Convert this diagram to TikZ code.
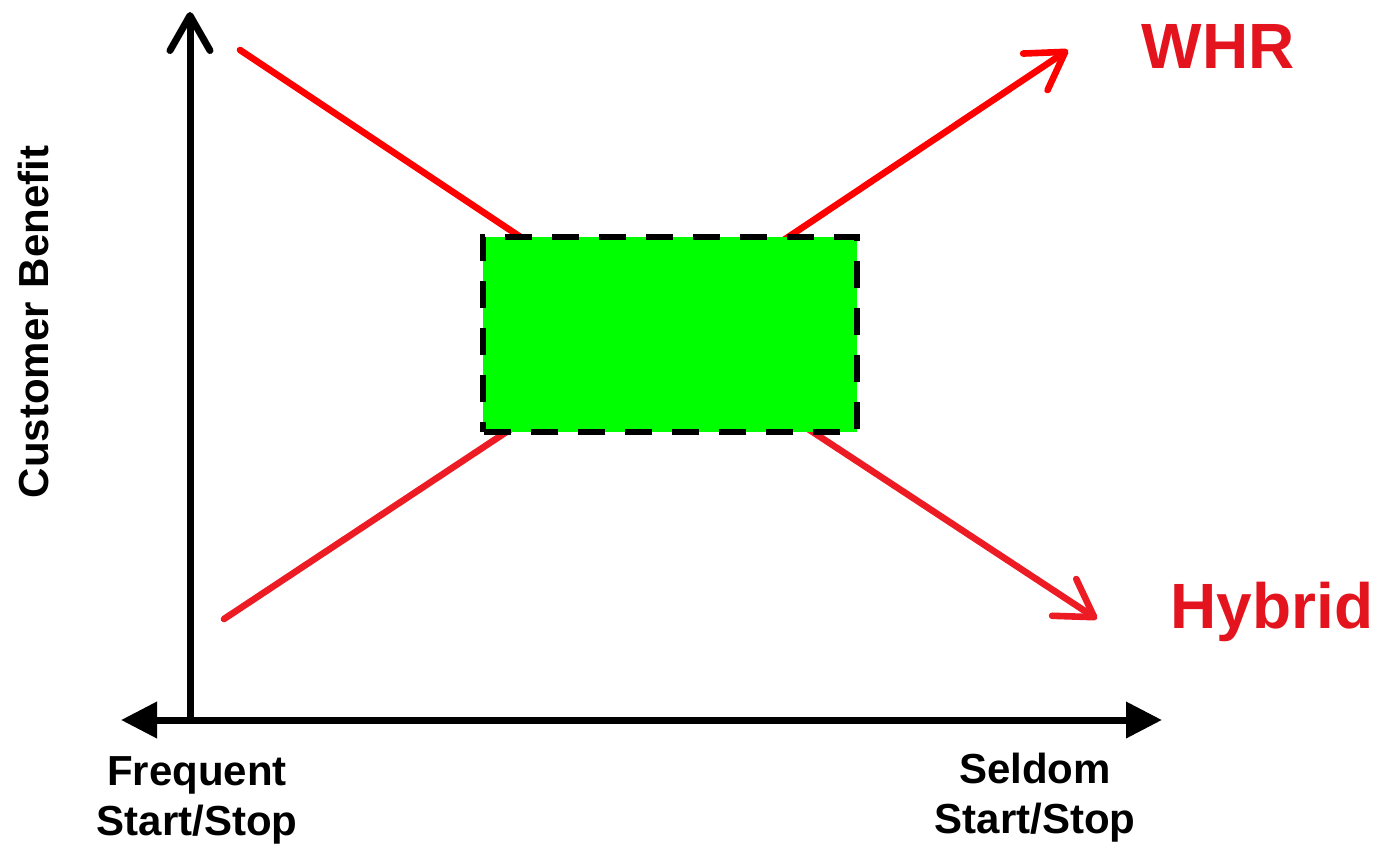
\documentclass[tikz,border=0pt]{standalone}
\usepackage{fontspec}
\setmainfont{Liberation Sans}
\usetikzlibrary{arrows.meta}
\definecolor{redA}{RGB}{255,0,0}
\definecolor{redB}{RGB}{237,28,36}
\definecolor{txtred}{RGB}{228,20,30}
\definecolor{boxgreen}{RGB}{0,255,0}
\tikzset{
  axis/.style={line width=7pt, black},
  redline/.style={line width=6.6pt, line cap=round},
  barb/.style={-{Straight Barb[length=36pt,width=44pt,round]}},
  lbl/.style={font=\bfseries\fontsize{42}{50}\selectfont, inner sep=0pt, align=center},
  biglbl/.style={font=\bfseries\fontsize{64}{70}\selectfont, inner sep=0pt, text=txtred},
}
\begin{document}
\begin{tikzpicture}[x=1pt,y=-1pt]
\useasboundingbox (0,0) rectangle (1379,844);
% axes
\coordinate (o) at (190,716.5);
\coordinate (ytop) at (190,12);
\coordinate (xl) at (121,720);
\coordinate (xr) at (1162,720);
\draw[axis, -{Straight Barb[length=35pt,width=40pt,round]}] (o) -- (ytop);
\draw[axis, {Triangle[length=36pt,width=35pt]}-{Triangle[length=36pt,width=35pt]}] (xl) -- (xr);
% red lines
\coordinate (a1) at (240,50);
\coordinate (a2) at (600,290);
\coordinate (b1) at (224,619);
\coordinate (b2) at (600,370);
\coordinate (c1) at (700,296);
\coordinate (c2) at (1068,50);
\coordinate (d1) at (720,371);
\coordinate (d2) at (1097,619);
\draw[redline, redA] (a1) -- (a2);
\draw[redline, redB] (b1) -- (b2);
\draw[redline, redA, barb] (c1) -- (c2);
\draw[redline, redB, barb] (d1) -- (d2);
% box
\node[fill=boxgreen, minimum width=374pt, minimum height=195pt, inner sep=0pt] (box) at (670,334.5) {};
\draw[black, line width=6pt, dash pattern=on 27pt off 20pt, dash phase=17pt]
  (box.south west) -- (box.north west) -- (box.north east) -- (box.south east) -- cycle;
% labels
\node[lbl, rotate=90] (yl) at (33,322) {Customer\,\,Benefit};
\node[lbl, anchor=base] (fl) at (197,835) {Frequent\\Start/Stop};
\node[lbl, anchor=base] (sl) at (1035,833) {Seldom\\Start/Stop};
\node[biglbl, anchor=base] (whr) at (1218,68) {WHR};
\node[biglbl, anchor=base] (hy) at (1272,628) {Hybrid};
\end{tikzpicture}
\end{document}
